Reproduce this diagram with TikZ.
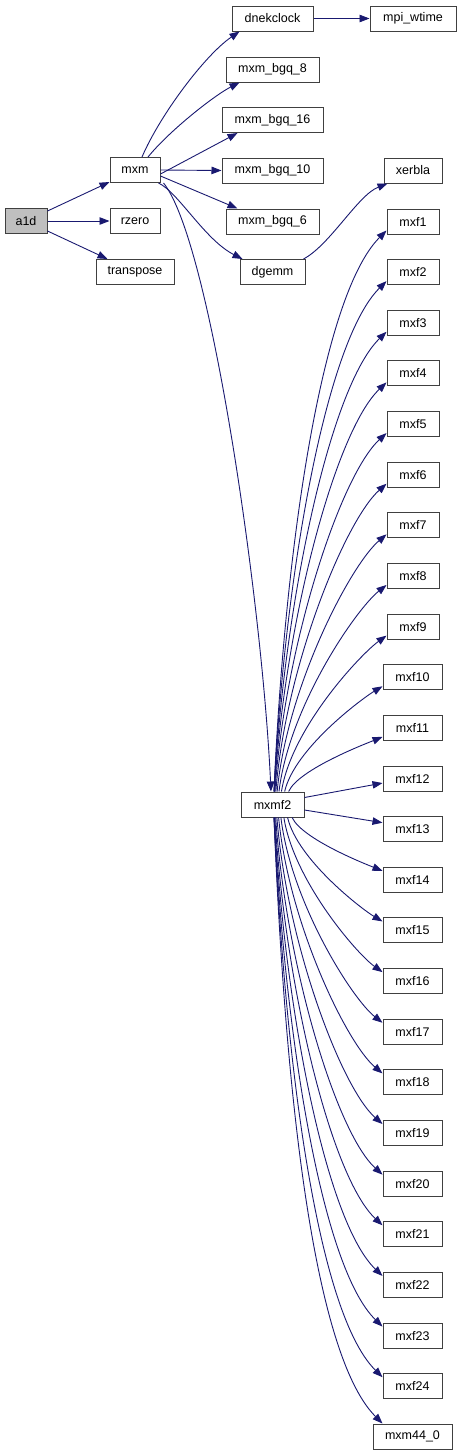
\documentclass[tikz,border=0pt]{standalone}
\usepackage{fontspec}
\setmainfont{Liberation Sans}
\usetikzlibrary{arrows.meta}
\definecolor{edgecol}{HTML}{191970}
\definecolor{nodegray}{HTML}{BFBFBF}
\begin{document}
\begin{tikzpicture}[x=1pt,y=-1pt,
 box/.style={draw=black!75, line width=1pt, fill=white, minimum height=25pt, inner sep=0pt, font=\fontsize{12.5}{14}\selectfont, text=black},
 edge/.style={draw=edgecol, line width=0.9pt, -{Triangle[length=10pt,width=7.5pt]}}]
\useasboundingbox (0,0) rectangle (461,1456);
% nodes
\node[box, fill=nodegray, minimum width=42pt] (a1d) at (26,221) {a1d};
\node[box, minimum width=50pt] (mxm) at (135,170) {mxm};
\node[box, minimum width=50pt] (rzero) at (135,221) {rzero};
\node[box, minimum width=78pt] (transpose) at (135,272) {transpose};
\node[box, minimum width=81pt] (dnekclock) at (272.5,18.5) {dnekclock};
\node[box, minimum width=86pt] (mpiwtime) at (413,18.5) {mpi\_wtime};
\node[box, minimum width=93pt] (bgq8) at (272.5,69.5) {mxm\_bgq\_8};
\node[box, minimum width=101pt] (bgq16) at (272.5,120) {mxm\_bgq\_16};
\node[box, minimum width=101pt] (bgq10) at (272.5,170.5) {mxm\_bgq\_10};
\node[box, minimum width=93pt] (bgq6) at (272.5,221.5) {mxm\_bgq\_6};
\node[box, minimum width=65pt] (dgemm) at (272.5,272) {dgemm};
\node[box, minimum width=58pt] (xerbla) at (413,170.5) {xerbla};
\node[box, minimum width=63pt] (mxmf2) at (272.5,804.5) {mxmf2};
\foreach \k in {1,...,24}{
  \pgfmathsetmacro{\yy}{221.5+(\k-1)*50.64}
  \ifnum\k<10 \def\ww{52}\def\xx{413}\else\def\ww{59}\def\xx{412.5}\fi
  \node[box, minimum width=\ww pt] (mxf\k) at (\xx,\yy) {mxf\k};
}
\node[box, minimum width=79pt] (mxm44) at (412.5,1436.5) {mxm44\_0};
% edges
\draw[edge] ([yshift=10pt]a1d.east) -- ([yshift=1pt]mxm.south west);
\draw[edge] (a1d.east) -- (rzero.west);
\draw[edge] ([yshift=-10pt]a1d.east) -- ([xshift=12pt]transpose.north west);
\draw[edge] (dnekclock.east) -- (mpiwtime.west);
\draw[edge] ([xshift=7pt]mxm.north) .. controls (160,115) and (205,55) .. ([xshift=8pt]dnekclock.south west);
\draw[edge] ([xshift=13pt]mxm.north) .. controls (170,130) and (215,95) .. ([xshift=14pt]bgq8.south west);
\draw[edge] ([yshift=9pt]mxm.south east) -- ([xshift=16pt]bgq16.south west);
\draw[edge] (mxm.east) -- (bgq10.west);
\draw[edge] ([yshift=-6pt]mxm.east) -- ([xshift=12pt]bgq6.north west);
\draw[edge] ([xshift=-2pt]mxm.south east) .. controls (178,192) and (205,240) .. ([xshift=3pt]dgemm.north west);
\draw[edge] ([xshift=3pt]mxm.south east) .. controls (210,240) and (262,600) .. ([xshift=-1.5pt]mxmf2.north);
\draw[edge] ([xshift=-2pt]dgemm.north east) .. controls (330,245) and (358,195) .. ([xshift=4pt]xerbla.south west);
\foreach \k in {1,...,11}{
  \pgfmathsetmacro{\ey}{221.5+(\k-1)*50.64+8.5}
  \pgfmathsetmacro{\ex}{(\k<10)?387:383}
  \pgfmathsetmacro{\myD}{792-\ey}
  \pgfmathsetmacro{\myT}{\myD/561}
  \pgfmathsetmacro{\sx}{274+20*(1-\myT)^3}
  \pgfmathsetmacro{\ax}{\sx+10}
  \pgfmathsetmacro{\ay}{792-0.41*\myD}
  \pgfmathsetmacro{\bx}{\ex-0.12*\myD-10*(1-\myT)}
  \pgfmathsetmacro{\by}{\ey+0.12*\myD}
  \pgfmathsetmacro{\sh}{\sx-272.5}
  \draw[edge] ([xshift=\sh pt]mxmf2.north) .. controls (\ax,\ay) and (\bx,\by) .. ([yshift=4pt]mxf\k.south west);
}
\draw[edge] ([yshift=7pt]mxmf2.east) -- ([yshift=-4.5pt]mxf12.west);
\draw[edge] ([yshift=-5.5pt]mxmf2.east) -- ([yshift=6.5pt]mxf13.west);
\foreach \k in {14,...,24}{
  \pgfmathsetmacro{\ey}{221.5+(\k-1)*50.64-8.5}
  \pgfmathsetmacro{\ex}{383}
  \pgfmathsetmacro{\myD}{\ey-817}
  \pgfmathsetmacro{\myT}{\myD/607}
  \pgfmathsetmacro{\sx}{274+24*(1-\myT)^3}
  \pgfmathsetmacro{\ax}{\sx+10}
  \pgfmathsetmacro{\ay}{817+0.41*\myD}
  \pgfmathsetmacro{\bx}{\ex-0.12*\myD-10*(1-\myT)}
  \pgfmathsetmacro{\by}{\ey-0.12*\myD}
  \pgfmathsetmacro{\sh}{\sx-272.5}
  \draw[edge] ([xshift=\sh pt]mxmf2.south) .. controls (\ax,\ay) and (\bx,\by) .. ([yshift=-4pt]mxf\k.north west);
}
\draw[edge] ([xshift=1.5pt]mxmf2.south) .. controls (284,1066) and (310,1351) .. ([xshift=10pt]mxm44.north west);
\end{tikzpicture}
\end{document}
